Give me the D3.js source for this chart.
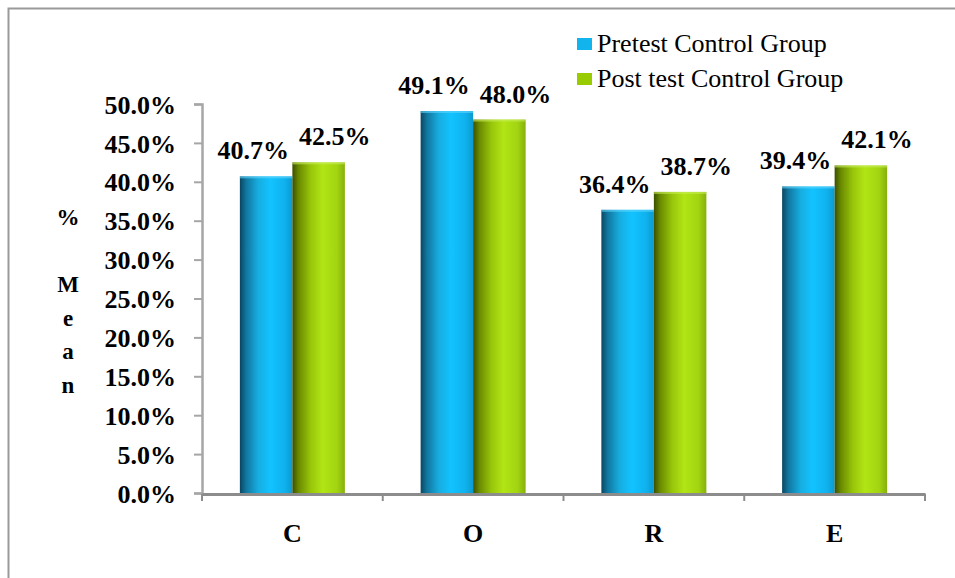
<!DOCTYPE html>
<html><head><meta charset="utf-8">
<script src="https://cdn.jsdelivr.net/npm/d3@7"></script>
<style>body{margin:0;background:#fff}svg{display:block}</style>
</head><body>
<svg id="c" width="955" height="578"></svg>
<script>
const categories = ["C","O","R","E"];
const seriesNames = ["Pretest Control Group","Post test Control Group"];
const pretest = [0.407, 0.491, 0.364, 0.394];
const posttest = [0.425, 0.480, 0.387, 0.421];
const yTicks = [0,0.05,0.10,0.15,0.20,0.25,0.30,0.35,0.40,0.45,0.50];
const yTitle = ["%","","M","e","a","n"];

const svg = d3.select("#c");
const serif = "\"Liberation Serif\",\"Times New Roman\",serif";

// outer border (top/left visible)
svg.append("rect").attr("x",8.5).attr("y",8.5).attr("width",960).attr("height",600)
  .attr("fill","none").attr("stroke","#9a9a9a").attr("stroke-width",2);

const defs = svg.append("defs");
function grad(id, stops){
  const g = defs.append("linearGradient").attr("id",id).attr("x1","0").attr("x2","1").attr("y1","0").attr("y2","0");
  stops.forEach(s=>g.append("stop").attr("offset",s[0]).attr("stop-color",s[1]));
}
grad("gBlue",[["0%","#0a4662"],["12%","#11779f"],["35%","#17ade0"],["58%","#12c3ff"],["85%","#0fb2ee"],["100%","#0c9ad0"]]);
grad("gGreen",[["0%","#3b4f00"],["12%","#6a8a00"],["35%","#98c60a"],["58%","#b2e515"],["85%","#a2d411"],["100%","#86b00c"]]);

const x0 = 202, x1 = 925, yTop = 104, yBot = 493;
const x = d3.scaleBand().domain(categories).range([x0,x1]).paddingInner(0).paddingOuter(0);
const y = d3.scaleLinear().domain([0,0.5]).range([yBot,yTop]);
const barW = 52.5;

// y axis
const yAxis = svg.append("g").attr("transform",`translate(${x0},0)`)
  .call(d3.axisLeft(y).tickValues(yTicks).tickSize(8).tickFormat(d3.format(".1%")));
yAxis.select(".domain").attr("stroke","#a6a6a6").attr("stroke-width",2.5);
yAxis.selectAll(".tick line").attr("stroke","#a6a6a6").attr("stroke-width",2);
yAxis.selectAll(".tick text").attr("x",-26).attr("dy","0.35em")
  .style("font-family",serif).style("font-weight","bold").style("font-size","26px")
  .attr("fill","#000");

// bars
const series = [pretest, posttest];
const fills = ["url(#gBlue)","url(#gGreen)"];
series.forEach((vals,si)=>{
  svg.append("g").selectAll("rect").data(vals).join("rect")
    .attr("x",(d,i)=>x(categories[i]) + x.bandwidth()/2 - barW + si*barW)
    .attr("width",barW)
    .attr("y",d=>y(d))
    .attr("height",d=>yBot - y(d))
    .attr("fill",fills[si]);
});
// top highlight
series.forEach((vals,si)=>{
  svg.append("g").selectAll("rect").data(vals).join("rect")
    .attr("x",(d,i)=>x(categories[i]) + x.bandwidth()/2 - barW + si*barW)
    .attr("width",barW).attr("y",d=>y(d)).attr("height",2)
    .attr("fill", si===0 ? "#5fd6ff" : "#c8ef5a").attr("opacity",0.6);
});

// x axis
const xAxis = svg.append("g").attr("transform",`translate(0,${yBot+1})`)
  .call(d3.axisBottom(x).tickSize(0).tickFormat(""));
xAxis.select(".domain").attr("stroke","#8c8c8c").attr("stroke-width",3);
const bounds = [x0].concat(categories.map(c=>x(c)+x.bandwidth()));
svg.append("g").selectAll("line").data(bounds).join("line")
  .attr("x1",d=>d).attr("x2",d=>d).attr("y1",yBot+1).attr("y2",yBot+8)
  .attr("stroke","#8c8c8c").attr("stroke-width",2);
svg.append("g").selectAll("text").data(categories).join("text")
  .attr("x",d=>x(d)+x.bandwidth()/2).attr("y",542).attr("text-anchor","middle")
  .style("font-family",serif).style("font-weight","bold").style("font-size","26px")
  .text(d=>d);

// value labels
const fmt = d3.format(".1%");
series.forEach((vals,si)=>{
  svg.append("g").selectAll("text").data(vals).join("text")
    .attr("x",(d,i)=>x(categories[i]) + x.bandwidth()/2 + (si===0 ? -barW/2 - 13 : barW/2 + 16))
    .attr("y",d=>y(d)-17).attr("text-anchor","middle")
    .style("font-family",serif).style("font-weight","bold").style("font-size","26px")
    .text(d=>fmt(d));
});

// y title
svg.append("g").selectAll("text").data(yTitle).join("text")
  .attr("x",68).attr("y",(d,i)=>225 + i*33.5).attr("text-anchor","middle")
  .style("font-family",serif).style("font-weight","bold").style("font-size","23px")
  .text(d=>d);

// legend
const legColors = ["#12b4ee","#99cc00"];
const lg = svg.append("g");
seriesNames.forEach((n,i)=>{
  const yy = 38 + i*35;
  lg.append("rect").attr("x",577).attr("y",yy).attr("width",15).attr("height",12).attr("fill",legColors[i]);
  lg.append("text").attr("x",597).attr("y",yy+14)
    .style("font-family",serif).style("font-size","26px").attr("fill","#000")
    .text(n);
});
</script>
</body></html>
